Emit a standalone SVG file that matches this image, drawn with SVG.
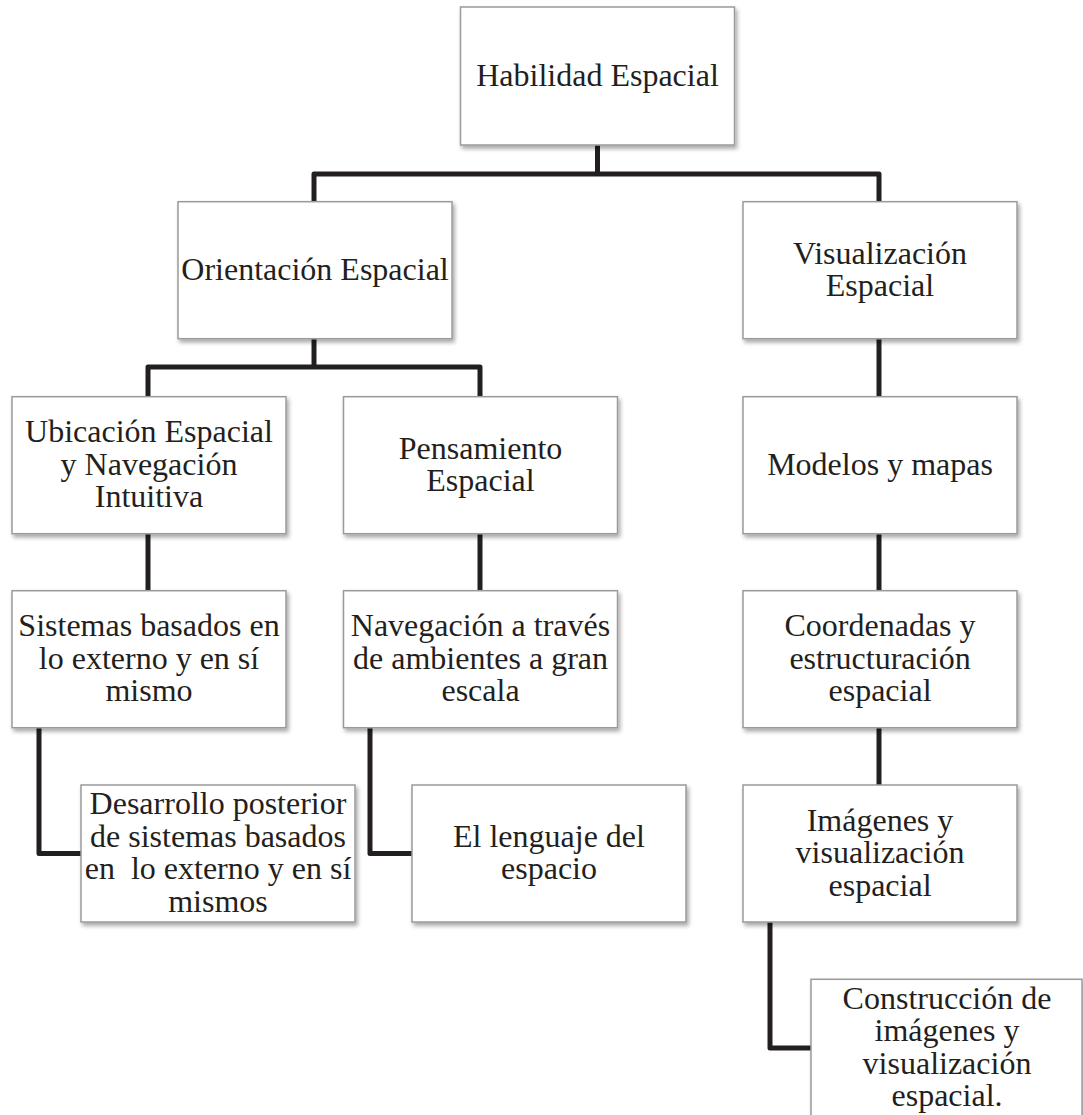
<svg xmlns="http://www.w3.org/2000/svg" width="1083" height="1115" viewBox="0 0 1083 1115">
<defs>
<filter id="sh" x="-10%" y="-10%" width="125%" height="130%">
<feDropShadow dx="2" dy="3" stdDeviation="2" flood-color="#000" flood-opacity="0.35"/>
</filter>
<style>
.box{fill:#fff;stroke:#9a9a9a;stroke-width:1.5;filter:url(#sh)}
.t{font-family:"Liberation Serif","Times New Roman",serif;font-size:32px;fill:#231f20;text-anchor:middle}
.c{fill:none;stroke:#231f20;stroke-width:5;stroke-linejoin:round}
</style>
</defs>
<rect width="1083" height="1115" fill="#fff"/>
<g id="connectors">
<path class="c" d="M597.5 145 V174"/>
<path class="c" d="M314 201.7 V174 H879 V201.7"/>
<path class="c" d="M314 339 V367"/>
<path class="c" d="M148 397 V367 H480 V397"/>
<path class="c" d="M879 339 V397"/>
<path class="c" d="M148 533 V591"/>
<path class="c" d="M480 533 V591"/>
<path class="c" d="M879 533 V591"/>
<path class="c" d="M39 727 V853.5 H81"/>
<path class="c" d="M370 727 V853.5 H412"/>
<path class="c" d="M879 727 V785"/>
<path class="c" d="M770 922 V1048 H811"/>
</g>
<g id="root">
<rect class="box" x="460.5" y="7" width="274" height="138"/>
<text class="t" x="597.5" y="86">Habilidad Espacial</text>
</g>
<g id="orientacion">
<rect class="box" x="178" y="201.7" width="274" height="137"/>
<text class="t" x="315" y="279.7">Orientación Espacial</text>
</g>
<g id="visualizacion">
<rect class="box" x="743" y="201.7" width="274" height="137"/>
<text class="t" x="880" y="263.5">Visualización</text>
<text class="t" x="880" y="296">Espacial</text>
</g>
<g id="ubicacion">
<rect class="box" x="12" y="396.7" width="274" height="137"/>
<text class="t" x="149" y="442.2">Ubicación Espacial</text>
<text class="t" x="149" y="474.7">y Navegación</text>
<text class="t" x="149" y="507.2">Intuitiva</text>
</g>
<g id="pensamiento">
<rect class="box" x="343.5" y="396.7" width="274" height="137"/>
<text class="t" x="480.5" y="458.5">Pensamiento</text>
<text class="t" x="480.5" y="491">Espacial</text>
</g>
<g id="modelos">
<rect class="box" x="743" y="396.7" width="274" height="137"/>
<text class="t" x="880" y="474.7">Modelos y mapas</text>
</g>
<g id="sistemas">
<rect class="box" x="12" y="590.7" width="274" height="137"/>
<text class="t" x="149" y="636.2">Sistemas basados en</text>
<text class="t" x="149" y="668.7">lo externo y en sí</text>
<text class="t" x="149" y="701.2">mismo</text>
</g>
<g id="navegacion">
<rect class="box" x="343.5" y="590.7" width="274" height="137"/>
<text class="t" x="480.5" y="636.2">Navegación a través</text>
<text class="t" x="480.5" y="668.7">de ambientes a gran</text>
<text class="t" x="480.5" y="701.2">escala</text>
</g>
<g id="coordenadas">
<rect class="box" x="743" y="590.7" width="274" height="137"/>
<text class="t" x="880" y="636.2">Coordenadas y</text>
<text class="t" x="880" y="668.7">estructuración</text>
<text class="t" x="880" y="701.2">espacial</text>
</g>
<g id="desarrollo">
<rect class="box" x="81" y="785" width="274" height="137"/>
<text class="t" x="218" y="814.2">Desarrollo posterior</text>
<text class="t" x="218" y="846.7">de sistemas basados</text>
<text class="t" x="218" y="879.2" xml:space="preserve">en  lo externo y en sí</text>
<text class="t" x="218" y="911.7">mismos</text>
</g>
<g id="lenguaje">
<rect class="box" x="412" y="785" width="274" height="137"/>
<text class="t" x="549" y="846.7">El lenguaje del</text>
<text class="t" x="549" y="879.2">espacio</text>
</g>
<g id="imagenes">
<rect class="box" x="743" y="785" width="274" height="137"/>
<text class="t" x="880" y="830.5">Imágenes y</text>
<text class="t" x="880" y="863">visualización</text>
<text class="t" x="880" y="895.5">espacial</text>
</g>
<g id="construccion">
<rect class="box" x="811" y="979.3" width="271" height="145"/>
<text class="t" x="947" y="1008.5">Construcción de</text>
<text class="t" x="947" y="1041">imágenes y</text>
<text class="t" x="947" y="1073.5">visualización</text>
<text class="t" x="947" y="1106">espacial.</text>
</g>
</svg>
